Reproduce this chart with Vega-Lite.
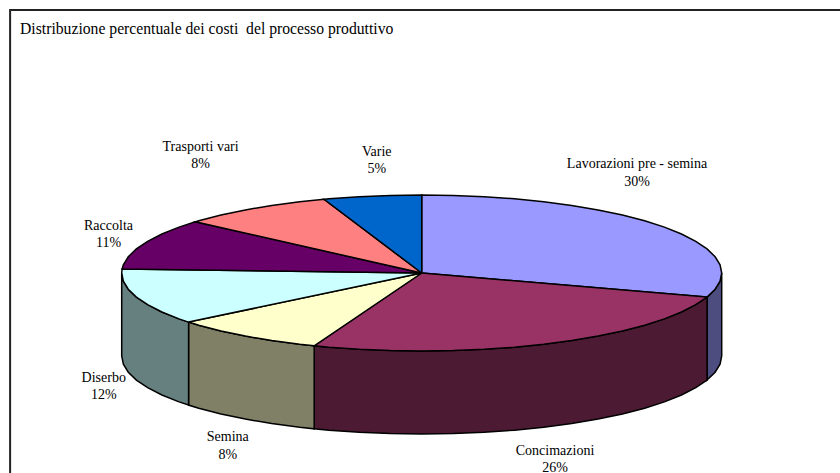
{"$schema":"https://vega.github.io/schema/vega-lite/v6.json","width":840,"height":473,"autosize":"none","padding":0,"background":"white",
"title":{"text":"Distribuzione percentuale dei costi \u00a0del processo produttivo","anchor":"start","frame":"group","offset":0,"dx":20,"dy":50,"baseline":"alphabetic","font":"Liberation Serif","fontSize":15.7,"fontWeight":"normal","color":"#000000"},
"config":{"view":{"stroke":null}},
"layer":[
{"data":{"values":[{"x":-137.2,"x2":150,"y":337.2,"y2":-290}]},"mark":{"type":"rect","fill":null,"stroke":"#222222","strokeWidth":2},"encoding":{"x":{"field":"x","type":"quantitative","scale":{"domain":[-140.57,139.43],"nice":false,"zero":false},"axis":null},"x2":{"field":"x2"},"y":{"field":"y","type":"quantitative","scale":{"domain":[-256.41,350],"nice":false,"zero":false},"axis":null},"y2":{"field":"y2"}}},
{"data":{"values":[
{"p":"Lavorazioni lato","x":100,"y":0},{"p":"Lavorazioni lato","x":99.45,"y":-10.45},{"p":"Lavorazioni lato","x":97.81,"y":-20.79},{"p":"Lavorazioni lato","x":95.11,"y":-30.9},{"p":"Lavorazioni lato","x":95.11,"y":-137.3},{"p":"Lavorazioni lato","x":97.81,"y":-127.19},{"p":"Lavorazioni lato","x":99.45,"y":-116.85},{"p":"Lavorazioni lato","x":100,"y":-106.4},{"p":"Lavorazioni lato","x":100,"y":0},
{"p":"Concimazioni lato","x":95.11,"y":-30.9},{"p":"Concimazioni lato","x":91.35,"y":-40.67},{"p":"Concimazioni lato","x":86.6,"y":-50},{"p":"Concimazioni lato","x":80.9,"y":-58.78},{"p":"Concimazioni lato","x":74.31,"y":-66.91},{"p":"Concimazioni lato","x":66.91,"y":-74.31},{"p":"Concimazioni lato","x":58.78,"y":-80.9},{"p":"Concimazioni lato","x":50,"y":-86.6},{"p":"Concimazioni lato","x":40.67,"y":-91.35},{"p":"Concimazioni lato","x":30.9,"y":-95.11},{"p":"Concimazioni lato","x":20.79,"y":-97.81},{"p":"Concimazioni lato","x":10.45,"y":-99.45},{"p":"Concimazioni lato","x":0,"y":-100},{"p":"Concimazioni lato","x":-10.45,"y":-99.45},{"p":"Concimazioni lato","x":-20.79,"y":-97.81},{"p":"Concimazioni lato","x":-30.9,"y":-95.11},{"p":"Concimazioni lato","x":-35.84,"y":-93.36},
{"p":"Concimazioni lato","x":-35.84,"y":-199.76},{"p":"Concimazioni lato","x":-30.9,"y":-201.51},{"p":"Concimazioni lato","x":-20.79,"y":-204.21},{"p":"Concimazioni lato","x":-10.45,"y":-205.85},{"p":"Concimazioni lato","x":0,"y":-206.4},{"p":"Concimazioni lato","x":10.45,"y":-205.85},{"p":"Concimazioni lato","x":20.79,"y":-204.21},{"p":"Concimazioni lato","x":30.9,"y":-201.51},{"p":"Concimazioni lato","x":40.67,"y":-197.75},{"p":"Concimazioni lato","x":50,"y":-193},{"p":"Concimazioni lato","x":58.78,"y":-187.3},{"p":"Concimazioni lato","x":66.91,"y":-180.71},{"p":"Concimazioni lato","x":74.31,"y":-173.31},{"p":"Concimazioni lato","x":80.9,"y":-165.18},{"p":"Concimazioni lato","x":86.6,"y":-156.4},{"p":"Concimazioni lato","x":91.35,"y":-147.07},{"p":"Concimazioni lato","x":95.11,"y":-137.3},{"p":"Concimazioni lato","x":95.11,"y":-30.9},
{"p":"Semina lato","x":-35.84,"y":-93.36},{"p":"Semina lato","x":-40.67,"y":-91.35},{"p":"Semina lato","x":-50,"y":-86.6},{"p":"Semina lato","x":-58.78,"y":-80.9},{"p":"Semina lato","x":-66.91,"y":-74.31},{"p":"Semina lato","x":-74.31,"y":-66.91},{"p":"Semina lato","x":-77.71,"y":-62.93},{"p":"Semina lato","x":-77.71,"y":-169.33},{"p":"Semina lato","x":-74.31,"y":-173.31},{"p":"Semina lato","x":-66.91,"y":-180.71},{"p":"Semina lato","x":-58.78,"y":-187.3},{"p":"Semina lato","x":-50,"y":-193},{"p":"Semina lato","x":-40.67,"y":-197.75},{"p":"Semina lato","x":-35.84,"y":-199.76},{"p":"Semina lato","x":-35.84,"y":-93.36},
{"p":"Diserbo lato","x":-77.71,"y":-62.93},{"p":"Diserbo lato","x":-80.9,"y":-58.78},{"p":"Diserbo lato","x":-86.6,"y":-50},{"p":"Diserbo lato","x":-91.35,"y":-40.67},{"p":"Diserbo lato","x":-95.11,"y":-30.9},{"p":"Diserbo lato","x":-97.81,"y":-20.79},{"p":"Diserbo lato","x":-99.45,"y":-10.45},{"p":"Diserbo lato","x":-100,"y":0},{"p":"Diserbo lato","x":-100,"y":-106.4},{"p":"Diserbo lato","x":-99.45,"y":-116.85},{"p":"Diserbo lato","x":-97.81,"y":-127.19},{"p":"Diserbo lato","x":-95.11,"y":-137.3},{"p":"Diserbo lato","x":-91.35,"y":-147.07},{"p":"Diserbo lato","x":-86.6,"y":-156.4},{"p":"Diserbo lato","x":-80.9,"y":-165.18},{"p":"Diserbo lato","x":-77.71,"y":-169.33},{"p":"Diserbo lato","x":-77.71,"y":-62.93},
{"p":"Lavorazioni pre - semina","x":0,"y":0},{"p":"Lavorazioni pre - semina","x":0,"y":100},{"p":"Lavorazioni pre - semina","x":10.45,"y":99.45},{"p":"Lavorazioni pre - semina","x":20.79,"y":97.81},{"p":"Lavorazioni pre - semina","x":30.9,"y":95.11},{"p":"Lavorazioni pre - semina","x":40.67,"y":91.35},{"p":"Lavorazioni pre - semina","x":50,"y":86.6},{"p":"Lavorazioni pre - semina","x":58.78,"y":80.9},{"p":"Lavorazioni pre - semina","x":66.91,"y":74.31},{"p":"Lavorazioni pre - semina","x":74.31,"y":66.91},{"p":"Lavorazioni pre - semina","x":80.9,"y":58.78},{"p":"Lavorazioni pre - semina","x":86.6,"y":50},{"p":"Lavorazioni pre - semina","x":91.35,"y":40.67},{"p":"Lavorazioni pre - semina","x":95.11,"y":30.9},{"p":"Lavorazioni pre - semina","x":97.81,"y":20.79},{"p":"Lavorazioni pre - semina","x":99.45,"y":10.45},{"p":"Lavorazioni pre - semina","x":100,"y":0},{"p":"Lavorazioni pre - semina","x":99.45,"y":-10.45},{"p":"Lavorazioni pre - semina","x":97.81,"y":-20.79},{"p":"Lavorazioni pre - semina","x":95.11,"y":-30.9},{"p":"Lavorazioni pre - semina","x":0,"y":0},
{"p":"Concimazioni","x":0,"y":0},{"p":"Concimazioni","x":95.11,"y":-30.9},{"p":"Concimazioni","x":91.35,"y":-40.67},{"p":"Concimazioni","x":86.6,"y":-50},{"p":"Concimazioni","x":80.9,"y":-58.78},{"p":"Concimazioni","x":74.31,"y":-66.91},{"p":"Concimazioni","x":66.91,"y":-74.31},{"p":"Concimazioni","x":58.78,"y":-80.9},{"p":"Concimazioni","x":50,"y":-86.6},{"p":"Concimazioni","x":40.67,"y":-91.35},{"p":"Concimazioni","x":30.9,"y":-95.11},{"p":"Concimazioni","x":20.79,"y":-97.81},{"p":"Concimazioni","x":10.45,"y":-99.45},{"p":"Concimazioni","x":0,"y":-100},{"p":"Concimazioni","x":-10.45,"y":-99.45},{"p":"Concimazioni","x":-20.79,"y":-97.81},{"p":"Concimazioni","x":-30.9,"y":-95.11},{"p":"Concimazioni","x":-35.84,"y":-93.36},{"p":"Concimazioni","x":0,"y":0},
{"p":"Semina","x":0,"y":0},{"p":"Semina","x":-35.84,"y":-93.36},{"p":"Semina","x":-40.67,"y":-91.35},{"p":"Semina","x":-50,"y":-86.6},{"p":"Semina","x":-58.78,"y":-80.9},{"p":"Semina","x":-66.91,"y":-74.31},{"p":"Semina","x":-74.31,"y":-66.91},{"p":"Semina","x":-77.71,"y":-62.93},{"p":"Semina","x":0,"y":0},
{"p":"Diserbo","x":0,"y":0},{"p":"Diserbo","x":-77.71,"y":-62.93},{"p":"Diserbo","x":-80.9,"y":-58.78},{"p":"Diserbo","x":-86.6,"y":-50},{"p":"Diserbo","x":-91.35,"y":-40.67},{"p":"Diserbo","x":-95.11,"y":-30.9},{"p":"Diserbo","x":-97.81,"y":-20.79},{"p":"Diserbo","x":-99.45,"y":-10.45},{"p":"Diserbo","x":-100,"y":0},{"p":"Diserbo","x":-99.86,"y":5.23},{"p":"Diserbo","x":0,"y":0},
{"p":"Raccolta","x":0,"y":0},{"p":"Raccolta","x":-99.86,"y":5.23},{"p":"Raccolta","x":-99.45,"y":10.45},{"p":"Raccolta","x":-97.81,"y":20.79},{"p":"Raccolta","x":-95.11,"y":30.9},{"p":"Raccolta","x":-91.35,"y":40.67},{"p":"Raccolta","x":-86.6,"y":50},{"p":"Raccolta","x":-80.9,"y":58.78},{"p":"Raccolta","x":-75.47,"y":65.61},{"p":"Raccolta","x":0,"y":0},
{"p":"Trasporti vari","x":0,"y":0},{"p":"Trasporti vari","x":-75.47,"y":65.61},{"p":"Trasporti vari","x":-74.31,"y":66.91},{"p":"Trasporti vari","x":-66.91,"y":74.31},{"p":"Trasporti vari","x":-58.78,"y":80.9},{"p":"Trasporti vari","x":-50,"y":86.6},{"p":"Trasporti vari","x":-40.67,"y":91.35},{"p":"Trasporti vari","x":-32.56,"y":94.55},{"p":"Trasporti vari","x":0,"y":0},
{"p":"Varie","x":0,"y":0},{"p":"Varie","x":-32.56,"y":94.55},{"p":"Varie","x":-30.9,"y":95.11},{"p":"Varie","x":-20.79,"y":97.81},{"p":"Varie","x":-10.45,"y":99.45},{"p":"Varie","x":0,"y":100},{"p":"Varie","x":0,"y":0}
]},
"transform":[{"window":[{"op":"row_number","as":"i"}]}],
"mark":{"type":"line","stroke":"#000000","strokeWidth":1.5,"strokeJoin":"miter"},
"encoding":{"x":{"field":"x","type":"quantitative","scale":{"domain":[-140.57,139.43],"nice":false,"zero":false},"axis":null},"y":{"field":"y","type":"quantitative","scale":{"domain":[-256.41,350],"nice":false,"zero":false},"axis":null},"order":{"field":"i","type":"quantitative"},"detail":{"field":"p"},
"fill":{"field":"p","type":"nominal","legend":null,"sort":null,"scale":{"domain":["Lavorazioni lato","Concimazioni lato","Semina lato","Diserbo lato","Lavorazioni pre - semina","Concimazioni","Semina","Diserbo","Raccolta","Trasporti vari","Varie"],"range":["#4D4D80","#4D1A33","#808066","#668080","#9999FF","#993366","#FFFFCC","#CCFFFF","#660066","#FF8080","#0066CC"]}}}},
{"data":{"values":[
{"label":"Lavorazioni pre - semina|30%","lx":71.77,"ly":139.74},
{"label":"Concimazioni|26%","lx":44.43,"ly":-228.2},
{"label":"Semina|8%","lx":-64.63,"ly":-210.64},
{"label":"Diserbo|12%","lx":-106,"ly":-134.6},
{"label":"Raccolta|11%","lx":-104.4,"ly":60.26},
{"label":"Trasporti vari|8%","lx":-73.7,"ly":161.9},
{"label":"Varie|5%","lx":-15,"ly":155.5}
]},
"mark":{"type":"text","font":"Liberation Serif","fontSize":14,"lineBreak":"|","lineHeight":17.5,"align":"center","baseline":"middle","color":"#000000"},
"encoding":{"x":{"field":"lx","type":"quantitative","scale":{"domain":[-140.57,139.43],"nice":false,"zero":false},"axis":null},"y":{"field":"ly","type":"quantitative","scale":{"domain":[-256.41,350],"nice":false,"zero":false},"axis":null},"text":{"field":"label"}}}
]}
